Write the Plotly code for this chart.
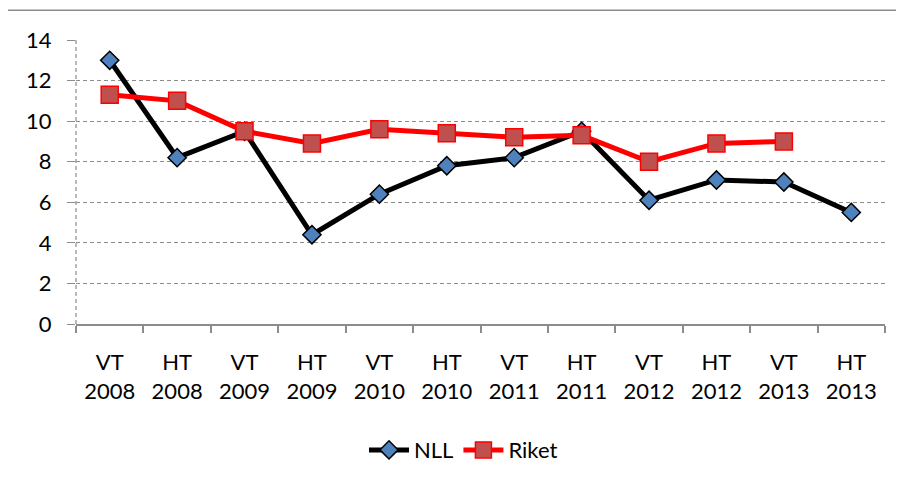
import plotly.graph_objects as go

terms = ["VT", "HT", "VT", "HT", "VT", "HT", "VT", "HT", "VT", "HT", "VT", "HT"]
years = ["2008", "2008", "2009", "2009", "2010", "2010", "2011", "2011", "2012", "2012", "2013", "2013"]
nll = [13.0, 8.2, 9.5, 4.4, 6.4, 7.8, 8.2, 9.5, 6.1, 7.1, 7.0, 5.5]
riket = [11.3, 11.0, 9.5, 8.9, 9.6, 9.4, 9.2, 9.3, 8.0, 8.9, 9.0, None]
y_ticks = [0, 2, 4, 6, 8, 10, 12, 14]

cats = [f"{t}<br>{y}" for t, y in zip(terms, years)]
xs = list(range(len(cats)))

FONT = "Lato"
FS = 22
# the page body adds an 8px offset; compensate
W, H = 896, 475
ML, MT, MR = 68, 32, 19
PW = W - ML - MR
PH = 286
MB = H - MT - PH

fig = go.Figure()
fig.add_trace(go.Scatter(
    x=xs, y=nll, name="NLL", mode="lines+markers",
    line=dict(color="black", width=5),
    marker=dict(symbol="diamond", size=14, color="#4F81BD",
                line=dict(color="black", width=1.5)),
))
fig.add_trace(go.Scatter(
    x=xs, y=riket, name="Riket", mode="lines+markers",
    line=dict(color="#FF0000", width=5),
    marker=dict(symbol="square", size=17, color="#C0504D",
                line=dict(color="#FF0000", width=1.5)),
))

fig.update_layout(
    width=W, height=H,
    margin=dict(l=ML, r=MR, t=MT, b=MB),
    paper_bgcolor="white", plot_bgcolor="white",
    font=dict(family=FONT, size=FS, color="black"),
    showlegend=True,
    legend=dict(orientation="h", x=0.479, xanchor="center", y=-0.37, yanchor="top",
                font=dict(family=FONT, size=FS), itemwidth=40, tracegroupgap=0),
    xaxis=dict(
        tickmode="array", tickvals=xs, ticktext=cats, range=[-0.5, 11.5],
        showgrid=False, zeroline=False, automargin=False,
        showline=True, linecolor="#8C8C8C", linewidth=1.5,
        ticks="", ticklabelstandoff=18,
        minor=dict(ticks="outside", ticklen=7, tickcolor="#8C8C8C",
                   tickwidth=1.5, tickvals=[i - 0.5 for i in range(13)]),
    ),
    yaxis=dict(
        range=[0, 14], tickvals=y_ticks, automargin=False,
        showgrid=True, gridcolor="#8C8C8C", gridwidth=1.2, griddash="4px,3px",
        zeroline=False, showline=False,
        ticks="outside", ticklen=8, tickcolor="#8C8C8C", tickwidth=1.2,
        ticklabelstandoff=11,
    ),
    shapes=[
        dict(type="line", xref="paper", yref="paper", x0=0, x1=0, y0=0, y1=1,
             line=dict(color="#8C8C8C", width=1.2, dash="4px,3px"), layer="below"),
        dict(type="rect", xref="paper", yref="paper",
             x0=(7 - 76) / PW, x1=1.1, y0=-1.0, y1=(326 - 10) / PH,
             line=dict(color="#8C8C8C", width=1.5), fillcolor="rgba(0,0,0,0)", layer="below"),
    ],
)

fig.write_html("out.html")
